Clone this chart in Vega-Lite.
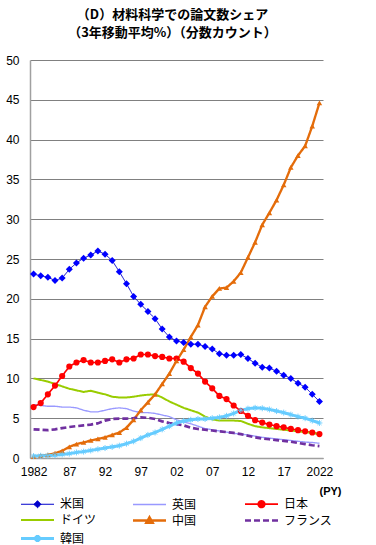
{
"$schema":"https://vega.github.io/schema/vega-lite/v6.json",
"width":293,"height":398,
"autosize":{"type":"none"},
"padding":{"left":30,"top":60,"right":53,"bottom":87},
"background":"white",
"config":{"view":{"stroke":null},"font":"Liberation Sans"},
"title":{"text":["（D）材料科学での論文数シェア","（3年移動平均%）（分数カウント）"],"font":"Noto Sans CJK JP","fontSize":13,"fontWeight":"bold","color":"#000","anchor":"middle","frame":"group","offset":14,"dx":-4,"lineHeight":18},
"datasets":{"d":[
{"c":"米国","year":1982,"v":23.1},{"c":"米国","year":1983,"v":22.9},{"c":"米国","year":1984,"v":22.7},{"c":"米国","year":1985,"v":22.3},{"c":"米国","year":1986,"v":22.6},{"c":"米国","year":1987,"v":23.7},{"c":"米国","year":1988,"v":24.5},{"c":"米国","year":1989,"v":25.1},{"c":"米国","year":1990,"v":25.5},{"c":"米国","year":1991,"v":26.0},
{"c":"米国","year":1992,"v":25.6},{"c":"米国","year":1993,"v":24.8},{"c":"米国","year":1994,"v":23.4},{"c":"米国","year":1995,"v":21.9},{"c":"米国","year":1996,"v":20.3},{"c":"米国","year":1997,"v":19.3},{"c":"米国","year":1998,"v":18.4},{"c":"米国","year":1999,"v":17.5},{"c":"米国","year":2000,"v":16.2},{"c":"米国","year":2001,"v":15.2},
{"c":"米国","year":2002,"v":14.7},{"c":"米国","year":2003,"v":14.5},{"c":"米国","year":2004,"v":14.3},{"c":"米国","year":2005,"v":14.3},{"c":"米国","year":2006,"v":14.0},{"c":"米国","year":2007,"v":13.7},{"c":"米国","year":2008,"v":13.1},{"c":"米国","year":2009,"v":12.9},{"c":"米国","year":2010,"v":12.9},{"c":"米国","year":2011,"v":13.0},
{"c":"米国","year":2012,"v":12.5},{"c":"米国","year":2013,"v":11.9},{"c":"米国","year":2014,"v":11.4},{"c":"米国","year":2015,"v":11.3},{"c":"米国","year":2016,"v":10.9},{"c":"米国","year":2017,"v":10.4},{"c":"米国","year":2018,"v":10.0},{"c":"米国","year":2019,"v":9.4},{"c":"米国","year":2020,"v":8.9},{"c":"米国","year":2021,"v":8.0},{"c":"米国","year":2022,"v":7.1},
{"c":"英国","year":1982,"v":6.7},{"c":"英国","year":1983,"v":6.6},{"c":"英国","year":1984,"v":6.5},{"c":"英国","year":1985,"v":6.5},{"c":"英国","year":1986,"v":6.4},{"c":"英国","year":1987,"v":6.4},{"c":"英国","year":1988,"v":6.3},{"c":"英国","year":1989,"v":6.0},{"c":"英国","year":1990,"v":5.8},{"c":"英国","year":1991,"v":5.8},
{"c":"英国","year":1992,"v":6.0},{"c":"英国","year":1993,"v":6.2},{"c":"英国","year":1994,"v":6.3},{"c":"英国","year":1995,"v":6.2},{"c":"英国","year":1996,"v":5.9},{"c":"英国","year":1997,"v":5.7},{"c":"英国","year":1998,"v":5.7},{"c":"英国","year":1999,"v":5.6},{"c":"英国","year":2000,"v":5.4},{"c":"英国","year":2001,"v":5.2},
{"c":"英国","year":2002,"v":4.8},{"c":"英国","year":2003,"v":4.55},{"c":"英国","year":2004,"v":4.3},{"c":"英国","year":2005,"v":4.0},{"c":"英国","year":2006,"v":3.7},{"c":"英国","year":2007,"v":3.55},{"c":"英国","year":2008,"v":3.4},{"c":"英国","year":2009,"v":3.25},{"c":"英国","year":2010,"v":3.1},{"c":"英国","year":2011,"v":3.0},
{"c":"英国","year":2012,"v":2.9},{"c":"英国","year":2013,"v":2.75},{"c":"英国","year":2014,"v":2.6},{"c":"英国","year":2015,"v":2.5},{"c":"英国","year":2016,"v":2.4},{"c":"英国","year":2017,"v":2.3},{"c":"英国","year":2018,"v":2.2},{"c":"英国","year":2019,"v":2.1},{"c":"英国","year":2020,"v":2.0},{"c":"英国","year":2021,"v":1.95},{"c":"英国","year":2022,"v":1.85},
{"c":"日本","year":1982,"v":6.4},{"c":"日本","year":1983,"v":6.9},{"c":"日本","year":1984,"v":8.0},{"c":"日本","year":1985,"v":9.1},{"c":"日本","year":1986,"v":10.3},{"c":"日本","year":1987,"v":11.5},{"c":"日本","year":1988,"v":12.0},{"c":"日本","year":1989,"v":12.3},{"c":"日本","year":1990,"v":12.0},{"c":"日本","year":1991,"v":12.0},
{"c":"日本","year":1992,"v":12.2},{"c":"日本","year":1993,"v":12.4},{"c":"日本","year":1994,"v":12.0},{"c":"日本","year":1995,"v":12.4},{"c":"日本","year":1996,"v":12.5},{"c":"日本","year":1997,"v":13.0},{"c":"日本","year":1998,"v":13.0},{"c":"日本","year":1999,"v":12.8},{"c":"日本","year":2000,"v":12.7},{"c":"日本","year":2001,"v":12.5},
{"c":"日本","year":2002,"v":12.5},{"c":"日本","year":2003,"v":12.1},{"c":"日本","year":2004,"v":11.3},{"c":"日本","year":2005,"v":10.6},{"c":"日本","year":2006,"v":9.6},{"c":"日本","year":2007,"v":8.75},{"c":"日本","year":2008,"v":7.8},{"c":"日本","year":2009,"v":7.4},{"c":"日本","year":2010,"v":6.6},{"c":"日本","year":2011,"v":5.9},
{"c":"日本","year":2012,"v":5.3},{"c":"日本","year":2013,"v":4.75},{"c":"日本","year":2014,"v":4.45},{"c":"日本","year":2015,"v":4.2},{"c":"日本","year":2016,"v":4.0},{"c":"日本","year":2017,"v":3.85},{"c":"日本","year":2018,"v":3.65},{"c":"日本","year":2019,"v":3.5},{"c":"日本","year":2020,"v":3.35},{"c":"日本","year":2021,"v":3.2},{"c":"日本","year":2022,"v":3.0},
{"c":"ドイツ","year":1982,"v":10.0},{"c":"ドイツ","year":1983,"v":9.8},{"c":"ドイツ","year":1984,"v":9.6},{"c":"ドイツ","year":1985,"v":9.3},{"c":"ドイツ","year":1986,"v":9.0},{"c":"ドイツ","year":1987,"v":8.7},{"c":"ドイツ","year":1988,"v":8.5},{"c":"ドイツ","year":1989,"v":8.3},{"c":"ドイツ","year":1990,"v":8.45},{"c":"ドイツ","year":1991,"v":8.2},
{"c":"ドイツ","year":1992,"v":8.0},{"c":"ドイツ","year":1993,"v":7.7},{"c":"ドイツ","year":1994,"v":7.6},{"c":"ドイツ","year":1995,"v":7.6},{"c":"ドイツ","year":1996,"v":7.7},{"c":"ドイツ","year":1997,"v":7.85},{"c":"ドイツ","year":1998,"v":7.95},{"c":"ドイツ","year":1999,"v":8.0},{"c":"ドイツ","year":2000,"v":7.6},{"c":"ドイツ","year":2001,"v":7.1},
{"c":"ドイツ","year":2002,"v":6.7},{"c":"ドイツ","year":2003,"v":6.3},{"c":"ドイツ","year":2004,"v":6.0},{"c":"ドイツ","year":2005,"v":5.7},{"c":"ドイツ","year":2006,"v":5.2},{"c":"ドイツ","year":2007,"v":4.85},{"c":"ドイツ","year":2008,"v":4.7},{"c":"ドイツ","year":2009,"v":4.7},{"c":"ドイツ","year":2010,"v":4.7},{"c":"ドイツ","year":2011,"v":4.65},
{"c":"ドイツ","year":2012,"v":4.3},{"c":"ドイツ","year":2013,"v":4.0},{"c":"ドイツ","year":2014,"v":3.85},{"c":"ドイツ","year":2015,"v":3.75},{"c":"ドイツ","year":2016,"v":3.65},{"c":"ドイツ","year":2017,"v":3.55},{"c":"ドイツ","year":2018,"v":3.45},{"c":"ドイツ","year":2019,"v":3.35},{"c":"ドイツ","year":2020,"v":3.25},{"c":"ドイツ","year":2021,"v":3.15},{"c":"ドイツ","year":2022,"v":3.0},
{"c":"中国","year":1982,"v":0.2},{"c":"中国","year":1983,"v":0.3},{"c":"中国","year":1984,"v":0.4},{"c":"中国","year":1985,"v":0.6},{"c":"中国","year":1986,"v":0.9},{"c":"中国","year":1987,"v":1.4},{"c":"中国","year":1988,"v":1.75},{"c":"中国","year":1989,"v":1.95},{"c":"中国","year":1990,"v":2.2},{"c":"中国","year":1991,"v":2.4},
{"c":"中国","year":1992,"v":2.6},{"c":"中国","year":1993,"v":2.9},{"c":"中国","year":1994,"v":3.2},{"c":"中国","year":1995,"v":3.8},{"c":"中国","year":1996,"v":4.8},{"c":"中国","year":1997,"v":6.0},{"c":"中国","year":1998,"v":7.0},{"c":"中国","year":1999,"v":8.0},{"c":"中国","year":2000,"v":9.3},{"c":"中国","year":2001,"v":10.6},
{"c":"中国","year":2002,"v":12.2},{"c":"中国","year":2003,"v":13.6},{"c":"中国","year":2004,"v":15.2},{"c":"中国","year":2005,"v":16.7},{"c":"中国","year":2006,"v":19.0},{"c":"中国","year":2007,"v":20.3},{"c":"中国","year":2008,"v":21.3},{"c":"中国","year":2009,"v":21.4},{"c":"中国","year":2010,"v":22.2},{"c":"中国","year":2011,"v":23.3},
{"c":"中国","year":2012,"v":25.2},{"c":"中国","year":2013,"v":27.1},{"c":"中国","year":2014,"v":29.3},{"c":"中国","year":2015,"v":30.8},{"c":"中国","year":2016,"v":32.4},{"c":"中国","year":2017,"v":34.3},{"c":"中国","year":2018,"v":36.5},{"c":"中国","year":2019,"v":38.0},{"c":"中国","year":2020,"v":39.2},{"c":"中国","year":2021,"v":41.7},{"c":"中国","year":2022,"v":44.6},
{"c":"フランス","year":1982,"v":3.6},{"c":"フランス","year":1983,"v":3.55},{"c":"フランス","year":1984,"v":3.5},{"c":"フランス","year":1985,"v":3.6},{"c":"フランス","year":1986,"v":3.75},{"c":"フランス","year":1987,"v":3.9},{"c":"フランス","year":1988,"v":4.0},{"c":"フランス","year":1989,"v":4.1},{"c":"フランス","year":1990,"v":4.2},{"c":"フランス","year":1991,"v":4.35},
{"c":"フランス","year":1992,"v":4.7},{"c":"フランス","year":1993,"v":4.9},{"c":"フランス","year":1994,"v":4.95},{"c":"フランス","year":1995,"v":4.95},{"c":"フランス","year":1996,"v":5.0},{"c":"フランス","year":1997,"v":5.1},{"c":"フランス","year":1998,"v":5.05},{"c":"フランス","year":1999,"v":4.9},{"c":"フランス","year":2000,"v":4.6},{"c":"フランス","year":2001,"v":4.4},
{"c":"フランス","year":2002,"v":4.25},{"c":"フランス","year":2003,"v":4.1},{"c":"フランス","year":2004,"v":3.8},{"c":"フランス","year":2005,"v":3.65},{"c":"フランス","year":2006,"v":3.55},{"c":"フランス","year":2007,"v":3.45},{"c":"フランス","year":2008,"v":3.35},{"c":"フランス","year":2009,"v":3.25},{"c":"フランス","year":2010,"v":3.15},{"c":"フランス","year":2011,"v":3.0},
{"c":"フランス","year":2012,"v":2.8},{"c":"フランス","year":2013,"v":2.6},{"c":"フランス","year":2014,"v":2.45},{"c":"フランス","year":2015,"v":2.35},{"c":"フランス","year":2016,"v":2.25},{"c":"フランス","year":2017,"v":2.15},{"c":"フランス","year":2018,"v":2.05},{"c":"フランス","year":2019,"v":1.9},{"c":"フランス","year":2020,"v":1.75},{"c":"フランス","year":2021,"v":1.6},{"c":"フランス","year":2022,"v":1.5},
{"c":"韓国","year":1982,"v":0.25},{"c":"韓国","year":1983,"v":0.28},{"c":"韓国","year":1984,"v":0.3},{"c":"韓国","year":1985,"v":0.35},{"c":"韓国","year":1986,"v":0.45},{"c":"韓国","year":1987,"v":0.55},{"c":"韓国","year":1988,"v":0.7},{"c":"韓国","year":1989,"v":0.8},{"c":"韓国","year":1990,"v":0.95},{"c":"韓国","year":1991,"v":1.1},
{"c":"韓国","year":1992,"v":1.25},{"c":"韓国","year":1993,"v":1.4},{"c":"韓国","year":1994,"v":1.55},{"c":"韓国","year":1995,"v":1.8},{"c":"韓国","year":1996,"v":2.1},{"c":"韓国","year":1997,"v":2.5},{"c":"韓国","year":1998,"v":2.9},{"c":"韓国","year":1999,"v":3.2},{"c":"韓国","year":2000,"v":3.6},{"c":"韓国","year":2001,"v":4.0},
{"c":"韓国","year":2002,"v":4.4},{"c":"韓国","year":2003,"v":4.65},{"c":"韓国","year":2004,"v":4.8},{"c":"韓国","year":2005,"v":4.9},{"c":"韓国","year":2006,"v":4.9},{"c":"韓国","year":2007,"v":5.0},{"c":"韓国","year":2008,"v":5.1},{"c":"韓国","year":2009,"v":5.3},{"c":"韓国","year":2010,"v":5.6},{"c":"韓国","year":2011,"v":6.0},
{"c":"韓国","year":2012,"v":6.2},{"c":"韓国","year":2013,"v":6.3},{"c":"韓国","year":2014,"v":6.25},{"c":"韓国","year":2015,"v":6.1},{"c":"韓国","year":2016,"v":5.9},{"c":"韓国","year":2017,"v":5.7},{"c":"韓国","year":2018,"v":5.45},{"c":"韓国","year":2019,"v":5.2},{"c":"韓国","year":2020,"v":5.0},{"c":"韓国","year":2021,"v":4.7},{"c":"韓国","year":2022,"v":4.4}
]},
"data":{"name":"d"},
"encoding":{
"x":{"field":"year","type":"quantitative","scale":{"domain":[1981.5,2022.5],"nice":false,"zero":false},
"axis":{"values":[1982,1987,1992,1997,2002,2007,2012,2017,2022],"labelExpr":"datum.value == 1982 || datum.value == 2022 ? '' + datum.value : slice('' + datum.value, 2)","grid":false,"ticks":false,"domainColor":"#A0A0A0","domainWidth":1.5,"labelFont":"Liberation Sans","labelFontSize":12,"labelColor":"#000","labelPadding":8,"title":"(PY)","titleFont":"Liberation Sans","titleFontSize":11,"titleFontWeight":"bold","titleColor":"#000","titleX":311,"titleY":38,"titleAlign":"right","titleBaseline":"bottom","titleAnchor":null}},
"y":{"field":"v","type":"quantitative","scale":{"domain":[0,50],"nice":false},
"axis":{"values":[0,5,10,15,20,25,30,35,40,45,50],"grid":true,"gridColor":"#808080","gridWidth":1,"ticks":false,"domainColor":"#A0A0A0","domainWidth":1.5,"labelFont":"Liberation Sans","labelFontSize":12,"labelColor":"#000","labelPadding":11,"title":null}}
},
"layer":[
{"mark":{"type":"line","strokeCap":"butt","strokeJoin":"round"},
"encoding":{
"color":{"field":"c","type":"nominal","scale":{"domain":["米国","英国","日本","ドイツ","中国","フランス","韓国"],"range":["#0000CC","#9999FF","#FF0000","#99CC00","#E46C0A","#7030A0","#66CCFF"]},
"legend":{"orient":"none","direction":"horizontal","legendX":0,"legendY":435,"columns":3,"gridAlign":"all","columnPadding":18,"rowPadding":-5.5,"padding":0,"title":null,"labelFont":"Noto Sans CJK JP","labelFontSize":12,"labelColor":"#000","labelOffset":15,"symbolSize":144,"symbolType":"stroke","labelLimit":200,
"encode":{"symbols":{"update":{
"shape":{"signal":"datum.value === '米国' ? 'M-2.75,0L2.75,0M0,-0.6L0.6,0L0,0.6L-0.6,0Z' : datum.value === '日本' ? 'M-2.75,0L2.75,0M-0.55,0A0.55,0.55 0 1,1 0.55,0A0.55,0.55 0 1,1 -0.55,0Z' : datum.value === '中国' ? 'M-2.75,0L2.75,0M0,-0.55L0.55,0.4L-0.55,0.4Z' : datum.value === '韓国' ? 'M-2.75,0L2.75,0M0,-0.6L0,0.6M-0.5,-0.3L0.5,0.3M-0.5,0.3L0.5,-0.3' : 'M-2.75,0L2.75,0'"},
"fill":{"scale":"color","field":"value"},
"stroke":{"scale":"color","field":"value"},
"strokeWidth":{"signal":"indexof(['英国','ドイツ','フランス'], datum.value) >= 0 ? 3 : 1.2"},
"strokeDash":{"signal":"datum.value === 'フランス' ? [5,3] : []"},
"opacity":{"value":1}
}}}}},
"strokeDash":{"field":"c","type":"nominal","scale":{"domain":["米国","英国","日本","ドイツ","中国","フランス","韓国"],"range":[[1,0],[1,0],[1,0],[1,0],[1,0],[6,3],[1,0]]},"legend":null},
"strokeWidth":{"field":"c","type":"nominal","scale":{"domain":["米国","英国","日本","ドイツ","中国","フランス","韓国"],"range":[1,3,1,3,1.5,3,1]},"legend":null}
}},
{"transform":[{"filter":"datum.c === '米国'"}],"mark":{"type":"point","shape":"diamond","filled":true,"color":"#0000FF","size":49,"opacity":1}},
{"transform":[{"filter":"datum.c === '日本'"}],"mark":{"type":"point","shape":"circle","filled":true,"color":"#FF0000","size":38,"opacity":1}},
{"transform":[{"filter":"datum.c === '中国'"}],"mark":{"type":"point","shape":"triangle-up","filled":true,"color":"#E46C0A","size":30,"opacity":1}},
{"transform":[{"filter":"datum.c === '韓国'"}],"mark":{"type":"point","shape":"M-1,0L1,0M0,-1L0,1M-0.7,-0.7L0.7,0.7M-0.7,0.7L0.7,-0.7","filled":false,"stroke":"#66CCFF","strokeWidth":0.9,"size":36,"opacity":1}}
]
}
